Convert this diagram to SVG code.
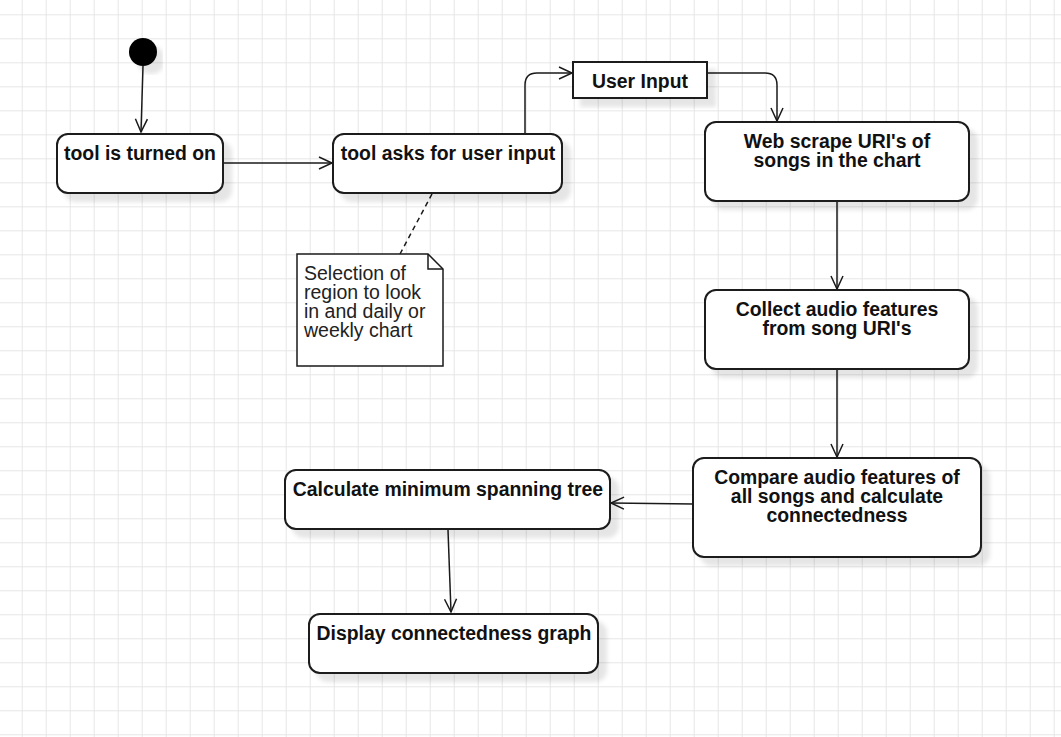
<svg xmlns="http://www.w3.org/2000/svg" width="1061" height="737" viewBox="0 0 1061 737">
<style>
.box{fill:#fff;stroke:#1a1a1a;stroke-width:2}
.t{font-family:"Liberation Sans",Arial,sans-serif;font-weight:bold;font-size:19.4px;fill:#111;text-anchor:middle}
.n{font-family:"Liberation Sans",Arial,sans-serif;font-size:19.5px;fill:#222}
.c{fill:none;stroke:#1a1a1a;stroke-width:1.5}
</style>
<defs>
<pattern id="grid" patternUnits="userSpaceOnUse" x="21.7" y="14.3" width="24" height="24">
<path d="M0 0.5H24M0.5 0V24" stroke="#e6e6e6" stroke-width="1" fill="none"/>
</pattern>
<filter id="sh" x="-10%" y="-10%" width="130%" height="140%">
<feOffset in="SourceAlpha" dx="8" dy="8" result="o"/>
<feGaussianBlur in="o" stdDeviation="2" result="b"/>
<feColorMatrix in="b" type="matrix" values="0 0 0 0 0  0 0 0 0 0  0 0 0 0 0  0 0 0 0.1 0" result="s"/>
<feMerge><feMergeNode in="s"/><feMergeNode in="SourceGraphic"/></feMerge>
</filter>
<marker id="arr" markerUnits="userSpaceOnUse" markerWidth="16" markerHeight="14" refX="14" refY="7" orient="auto">
<path d="M1,1 L14,7 L1,13" fill="none" stroke="#1a1a1a" stroke-width="1.5"/>
</marker>
</defs>
<rect width="1061" height="737" fill="#fff"/>
<rect width="1061" height="737" fill="url(#grid)"/>

<g id="connectors">
<path class="c" d="M143,66 L141,132" marker-end="url(#arr)"/>
<path class="c" d="M223,163 L332,163" marker-end="url(#arr)"/>
<path class="c" d="M525,133 V85 Q525,73 537,73 H572" marker-end="url(#arr)"/>
<path class="c" d="M707,73 H765 Q777,73 777,85 V121" marker-end="url(#arr)"/>
<path class="c" d="M837,201 V289" marker-end="url(#arr)"/>
<path class="c" d="M837,370 V457" marker-end="url(#arr)"/>
<path class="c" d="M693,504 L611,503" marker-end="url(#arr)"/>
<path class="c" d="M448,530 L451,612" marker-end="url(#arr)"/>
<path d="M432,194 L400,254" fill="none" stroke="#1a1a1a" stroke-width="1.5" stroke-dasharray="5,4"/>
</g>

<g id="start">
<circle cx="143" cy="52" r="14" fill="#000" filter="url(#sh)"/>
</g>

<g id="n1">
<rect class="box" x="57" y="134" width="166" height="59" rx="11" filter="url(#sh)"/>
<text class="t" x="140" y="160">tool is turned on</text>
</g>

<g id="n2">
<rect class="box" x="333" y="134" width="229" height="59" rx="11" filter="url(#sh)"/>
<text class="t" x="448" y="160">tool asks for user input</text>
</g>

<g id="note">
<path d="M297,254 H428 L443,269 V366 H297 Z" fill="#fff" stroke="#1a1a1a" stroke-width="1.5"/>
<path d="M428,254 V269 H443" fill="none" stroke="#1a1a1a" stroke-width="1.5"/>
<text class="n" x="304" y="280">Selection of</text>
<text class="n" x="304" y="299">region to look</text>
<text class="n" x="304" y="318">in and daily or</text>
<text class="n" x="304" y="337">weekly chart</text>
</g>

<g id="userinput">
<rect class="box" x="573" y="62" width="134" height="36" filter="url(#sh)"/>
<text class="t" x="640" y="88">User Input</text>
</g>

<g id="n3">
<rect class="box" x="705" y="122" width="264" height="79" rx="11" filter="url(#sh)"/>
<text class="t" x="837" y="147.5">Web scrape URI's of</text>
<text class="t" x="837" y="166.5">songs in the chart</text>
</g>

<g id="n4">
<rect class="box" x="705" y="290" width="264" height="79" rx="11" filter="url(#sh)"/>
<text class="t" x="837" y="315.5">Collect audio features</text>
<text class="t" x="837" y="334.5">from song URI's</text>
</g>

<g id="n5">
<rect class="box" x="693" y="458" width="288" height="99" rx="11" filter="url(#sh)"/>
<text class="t" x="837" y="483.5">Compare audio features of</text>
<text class="t" x="837" y="502.5">all songs and calculate</text>
<text class="t" x="837" y="521.5">connectedness</text>
</g>

<g id="n6">
<rect class="box" x="285" y="470" width="325" height="59" rx="11" filter="url(#sh)"/>
<text class="t" x="448" y="496">Calculate minimum spanning tree</text>
</g>

<g id="n7">
<rect class="box" x="309" y="614" width="289" height="59" rx="11" filter="url(#sh)"/>
<text class="t" x="454" y="640">Display connectedness graph</text>
</g>
</svg>
